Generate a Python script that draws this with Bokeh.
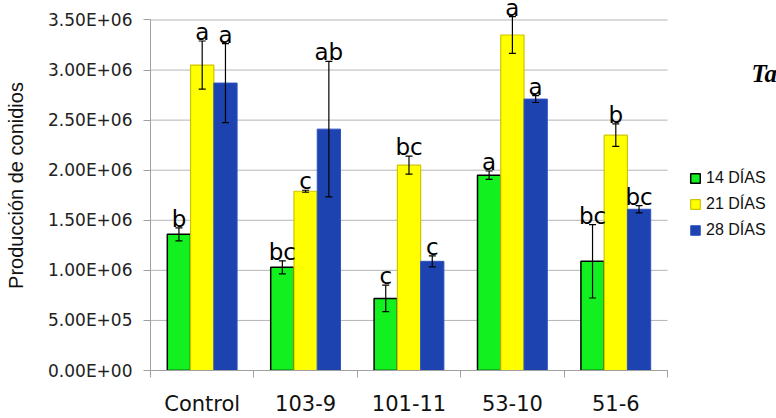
from bokeh.plotting import figure
from bokeh.models import (Range1d, LinearAxis, FixedTicker,
                          CustomJSTickFormatter, Whisker, TeeHead, ColumnDataSource,
                          Legend, LegendItem, Label, LabelSet)
from bokeh.transform import dodge
from bokeh.core.properties import value
from bokeh.embed import file_html
from bokeh.resources import INLINE

categories = ["Control", "103-9", "101-11", "53-10", "51-6"]
series_names = ["14 DÍAS", "21 DÍAS", "28 DÍAS"]

dias14 = [1.36e6, 1.03e6, 0.72e6, 1.95e6, 1.09e6]
dias14_err = [0.065e6, 0.065e6, 0.133e6, 0.042e6, 0.366e6]
dias14_letters = ["b", "bc", "c", "a", "bc"]

dias21 = [3.05e6, 1.79e6, 2.05e6, 3.35e6, 2.35e6]
dias21_err = [0.24e6, 0.01e6, 0.09e6, 0.183e6, 0.113e6]
dias21_letters = ["a", "c", "bc", "a", "b"]

dias28 = [2.87e6, 2.41e6, 1.09e6, 2.71e6, 1.61e6]
dias28_err = [0.394e6, 0.676e6, 0.055e6, 0.034e6, 0.037e6]
dias28_letters = ["a", "ab", "c", "a", "bc"]

y_ticks = [0, 5e5, 1e6, 1.5e6, 2e6, 2.5e6, 3e6, 3.5e6]
y_label = "Producción de conidios"

n = len(categories)
centers = [i + 0.5 for i in range(n)]
bounds = list(range(n + 1))
y_max = y_ticks[-1]

# layout: frame spans the whole area right of the y axis; the category area ends at x=n
W, H = 776, 418
left, bottom = 150, 38
cat_px = 517
top_gap = 20
x_end = n * (W - left) / cat_px
y_end = y_max * (H - bottom) / (H - bottom - top_gap)

p = figure(x_range=Range1d(0, x_end), y_range=Range1d(0, y_end),
           width=W, height=H, output_backend="svg", toolbar_location=None,
           x_axis_location=None, y_axis_location=None,
           min_border_left=left, min_border_right=0, min_border_top=0, min_border_bottom=bottom)
p.outline_line_color = None
p.background_fill_color = "white"
p.border_fill_color = "white"
p.xgrid.grid_line_color = None
p.ygrid.grid_line_color = None

# horizontal grid lines limited to the category area
p.segment(x0=[0] * len(y_ticks), x1=[n] * len(y_ticks), y0=y_ticks, y1=y_ticks,
          line_color="#b4b4b4", line_width=1, level="underlay")

yaxis = LinearAxis(ticker=FixedTicker(ticks=y_ticks, minor_ticks=[]), bounds=(0, y_max),
                   formatter=CustomJSTickFormatter(code="""
const s = tick.toExponential(2).toUpperCase();
const parts = s.split("E");
const e = parts[1];
return parts[0] + "E" + e[0] + e.slice(1).padStart(2, "0");
"""))
yaxis.axis_line_color = "#a0a0a0"
yaxis.major_tick_line_color = "#a0a0a0"
yaxis.major_tick_out = 7
yaxis.major_tick_in = 0
yaxis.minor_tick_out = 0
yaxis.major_label_text_font = "DejaVu Sans"
yaxis.major_label_text_font_size = "17px"
yaxis.major_label_text_color = "#222222"
yaxis.major_label_standoff = 11
yaxis.axis_label = y_label
yaxis.axis_label_text_font = "Liberation Sans"
yaxis.axis_label_text_font_size = "20px"
yaxis.axis_label_text_font_style = "normal"
yaxis.axis_label_text_color = "#111111"
yaxis.axis_label_standoff = 18
p.add_layout(yaxis, "left")

xaxis = LinearAxis(ticker=FixedTicker(ticks=centers, minor_ticks=bounds), bounds=(0, n),
                   major_label_overrides={c: name for c, name in zip(centers, categories)})
xaxis.axis_line_color = "#a0a0a0"
xaxis.major_tick_line_color = None
xaxis.major_tick_out = 0
xaxis.major_tick_in = 0
xaxis.minor_tick_line_color = "#a0a0a0"
xaxis.minor_tick_out = 7
xaxis.minor_tick_in = 0
xaxis.major_label_text_font = "DejaVu Sans"
xaxis.major_label_text_font_size = "21px"
xaxis.major_label_text_color = "#111111"
xaxis.major_label_standoff = 14
p.add_layout(xaxis, "below")

series = [
    (dias14, dias14_err, dias14_letters, -0.225, "#12f020", "#000000", 1.5),
    (dias21, dias21_err, dias21_letters, 0.0, "#ffff00", "#cfc400", 1.2),
    (dias28, dias28_err, dias28_letters, 0.225, "#1d43b0", "#2f52c4", 1.0),
]

items = []
for name, (vals, errs, letters, off, fill, line, lw) in zip(series_names, series):
    src = ColumnDataSource(data=dict(
        x=centers, vals=vals,
        upper=[v + e for v, e in zip(vals, errs)],
        lower=[v - e for v, e in zip(vals, errs)],
        letters=letters))
    r = p.vbar(x=dodge("x", off), top="vals", width=0.225, source=src,
               fill_color=fill, line_color=line, line_width=lw)
    items.append(LegendItem(label=name, renderers=[r]))
    w = Whisker(source=src, base=dodge("x", off), upper="upper", lower="lower",
                level="overlay", line_color="black", line_width=1.2,
                upper_head=TeeHead(size=7, line_color="black", line_width=1.2),
                lower_head=TeeHead(size=7, line_color="black", line_width=1.2))
    p.add_layout(w)
    labels = LabelSet(x=dodge("x", off), y="upper", text="letters", source=src,
                      text_align="center", text_baseline="alphabetic", y_offset=1,
                      text_font=value("DejaVu Sans"), text_font_size=value("23px"),
                      text_color="black")
    p.add_layout(labels)

legend = Legend(items=items, location=(539, 130), orientation="vertical",
                label_text_font="Liberation Sans", label_text_font_size="16px",
                label_text_color="#111111", glyph_width=12, glyph_height=12,
                label_height=20, spacing=6, label_standoff=5, padding=0, margin=0,
                border_line_color=None, background_fill_alpha=0)
p.add_layout(legend)

p.add_layout(Label(x=601, y=297, x_units="screen", y_units="screen", text="Ta",
                   text_font="Liberation Serif", text_font_style="bold italic",
                   text_baseline="alphabetic",
                   text_font_size="25px", text_color="black"))

open("out.html", "w").write(file_html(p, INLINE))
